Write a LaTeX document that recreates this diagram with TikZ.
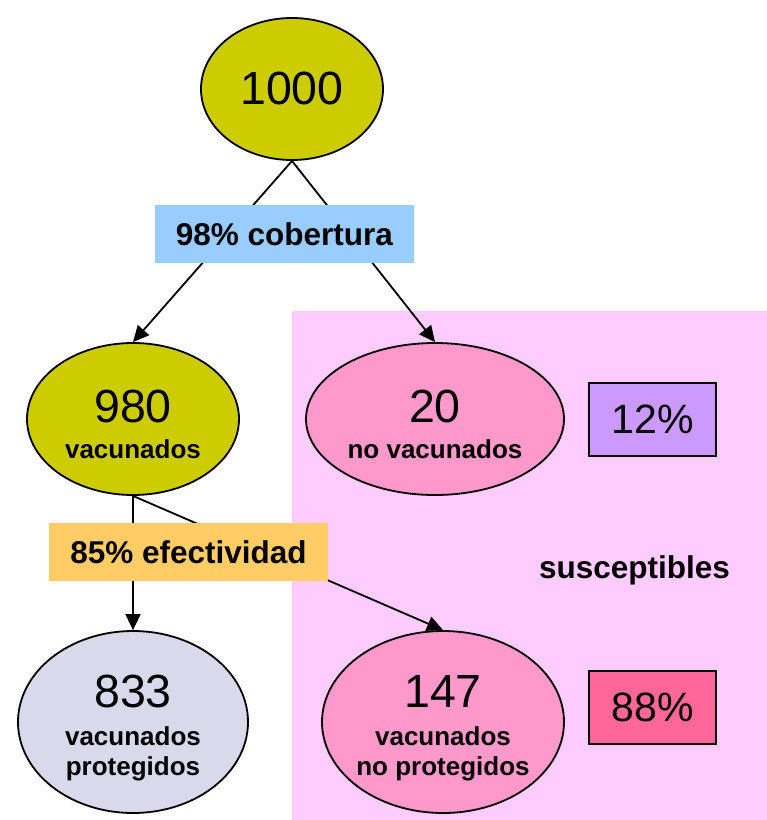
\documentclass[tikz,border=0pt]{standalone}
\usepackage{fontspec}
\setmainfont{Liberation Sans}
\usetikzlibrary{shapes.geometric,arrows.meta}
\definecolor{olivey}{RGB}{204,204,0}
\definecolor{pinkell}{RGB}{255,153,204}
\definecolor{pinkbg}{RGB}{255,204,255}
\definecolor{bluebox}{RGB}{153,204,255}
\definecolor{orangebox}{RGB}{255,204,102}
\definecolor{lilac}{RGB}{204,153,255}
\definecolor{rosebox}{RGB}{255,102,153}
\definecolor{greyell}{RGB}{217,217,235}
\begin{document}
\begin{tikzpicture}[x=1pt,y=-1pt,
 ell/.style={ellipse,draw=black,line width=1.8pt,inner sep=0pt},
 num/.style={font=\fontsize{46.5}{50}\selectfont,inner sep=0pt,anchor=base},
 sub/.style={font=\fontsize{26}{30}\selectfont\bfseries,inner sep=0pt,anchor=base},
 tag/.style={font=\fontsize{31.5}{36}\selectfont\bfseries,inner sep=0pt,minimum height=58pt},
 pct/.style={draw=black,line width=1.8pt,font=\fontsize{41}{46}\selectfont,inner sep=0pt,minimum width=127pt,minimum height=73pt},
 conn/.style={line width=1.8pt,-{Triangle[length=16pt,width=15pt]}}
]
\useasboundingbox (0,0) rectangle (767,820);
\fill[pinkbg] (292,311) rectangle (767,820);

% ellipses
\node[ell,fill=olivey,minimum width=182pt,minimum height=142pt] (e1000) at (292,89) {};
\node[ell,fill=olivey,minimum width=212pt,minimum height=152pt] (e980) at (133,419) {};
\node[ell,fill=pinkell,minimum width=258pt,minimum height=152pt] (e20) at (435,419) {};
\node[ell,fill=greyell,minimum width=230pt,minimum height=182pt] (e833) at (133,722) {};
\node[ell,fill=pinkell,minimum width=242pt,minimum height=182pt] (e147) at (443,722) {};

% texts in ellipses
\node[num] (t1000) at (292,104) {1000};
\node[num] (t980) at (133,422) {980};
\node[sub] (s980) at (133,458) {vacunados};
\node[num] (t20) at (435,422) {20};
\node[sub] (s20) at (435,458) {no vacunados};
\node[num] (t833) at (133,707) {833};
\node[sub] (s833a) at (133,745) {vacunados};
\node[sub] (s833b) at (133,775) {protegidos};
\node[num] (t147) at (443,707) {147};
\node[sub] (s147a) at (443,745) {vacunados};
\node[sub] (s147b) at (443,775) {no protegidos};

% connectors
\draw[conn] (e1000.south) -- (e980.north);
\draw[conn] (e1000.south) -- (e20.north);
\draw[conn] (e980.south) -- (e833.north);
\draw[conn] (e980.south) -- (e147.north);

% label boxes
\node[tag,fill=bluebox,minimum width=259pt] (cob) at (284.5,234) {98\% cobertura};
\node[tag,fill=orangebox,minimum width=279pt] (efe) at (188.5,552) {85\% efectividad};

% percentage boxes
\node[pct,fill=lilac] (p12) at (652.5,419.5) {12\%};
\node[pct,fill=rosebox] (p88) at (652.5,707.5) {88\%};

\node[font=\fontsize{31.5}{36}\selectfont\bfseries,inner sep=0pt,anchor=base] (sus) at (634.5,578) {susceptibles};
\end{tikzpicture}
\end{document}
